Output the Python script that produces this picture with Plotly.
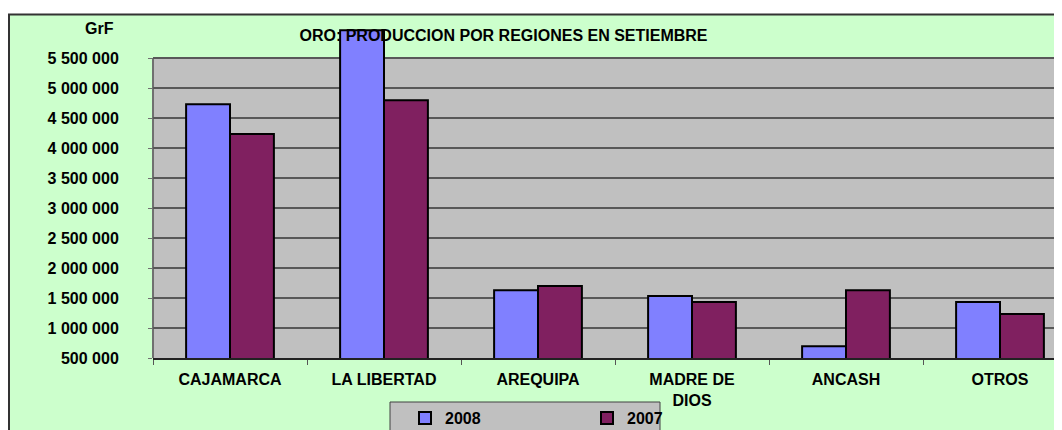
import plotly.graph_objects as go

categories = ["CAJAMARCA", "LA LIBERTAD", "AREQUIPA", "MADRE DE<br>DIOS", "ANCASH", "OTROS"]
values_2008 = [4728000, 5962000, 1628000, 1533000, 695000, 1433000]
values_2007 = [4233000, 4795000, 1700000, 1433000, 1628000, 1233000]
tick_vals = [500000, 1000000, 1500000, 2000000, 2500000, 3000000, 3500000,
             4000000, 4500000, 5000000, 5500000]
tick_text = ["500 000", "1 000 000", "1 500 000", "2 000 000", "2 500 000", "3 000 000",
             "3 500 000", "4 000 000", "4 500 000", "5 000 000", "5 500 000"]
title_text = "ORO: PRODUCCION POR REGIONES EN SETIEMBRE"
unit_text = "GrF"

OFF = 8  # page body margin
W, H = 1062, 430
ML, MR, MT, MB = 153 - OFF, 0, 12, 430 - (358 - OFF)
PW, PH = W - ML - MR, H - MT - MB
CAT_W = 154.0

def px_x(p):
    """page pixel x -> paper x"""
    return (p - OFF - ML) / PW

def px_y(p):
    """page pixel y -> paper y"""
    return (H - MB - (p - OFF)) / PH

FONT = "Liberation Sans, Arial, sans-serif"
BLUE = "#8080FF"
MAROON = "#802060"

fig = go.Figure()
fig.add_trace(go.Bar(name="2008", x=categories, y=values_2008,
                     marker=dict(color=BLUE, line=dict(color="black", width=2))))
fig.add_trace(go.Bar(name="2007", x=categories, y=values_2007,
                     marker=dict(color=MAROON, line=dict(color="black", width=2))))

ymin = tick_vals[0]
ymax = ymin + PH / 60.0 * 1e6
xr = [-0.5, -0.5 + PW / CAT_W]

shapes = [
    # outer green chart area
    dict(type="rect", xref="paper", yref="paper", layer="below",
         x0=px_x(9), x1=px_x(1120), y0=px_y(480), y1=px_y(14.5),
         fillcolor="#CCFFCC", line=dict(color="#333333", width=2)),
    # legend box
    dict(type="rect", xref="paper", yref="paper", layer="below",
         x0=px_x(390), x1=px_x(660), y0=px_y(460), y1=px_y(402),
         fillcolor="#C0C0C0", line=dict(color="#404040", width=1)),
    # gray plot area
    dict(type="rect", xref="paper", yref="y", layer="below",
         x0=0, x1=1, y0=tick_vals[0], y1=tick_vals[-1],
         fillcolor="#C0C0C0", line=dict(width=0)),
    # left wall line
    dict(type="line", xref="paper", yref="y", layer="below",
         x0=0, x1=0, y0=tick_vals[0], y1=tick_vals[-1],
         line=dict(color="#707070", width=2)),
]

fig.update_layout(
    width=W, height=H,
    margin=dict(l=ML, r=MR, t=MT, b=MB, autoexpand=False),
    paper_bgcolor="white",
    plot_bgcolor="rgba(0,0,0,0)",
    barmode="group",
    bargap=0.43,
    bargroupgap=0,
    font=dict(family=FONT, size=16, color="black"),
    title=dict(text="<b>" + title_text + "</b>", x=px_x(503.5), xanchor="center",
               xref="paper", y=1 - (35.5 - OFF) / H, yanchor="middle",
               font=dict(family=FONT, size=16, color="black")),
    showlegend=True,
    legend=dict(orientation="h", x=px_x(405), xanchor="left", y=px_y(401), yanchor="top",
                bgcolor="rgba(0,0,0,0)", borderwidth=0,
                entrywidth=137, entrywidthmode="pixels",
                font=dict(family=FONT, size=16, color="black", weight="bold"),
                itemsizing="constant"),
    shapes=shapes,
    annotations=[dict(text="<b>" + unit_text + "</b>", xref="paper", yref="paper",
                      x=px_x(116), xanchor="right", y=px_y(28), yanchor="middle",
                      showarrow=False, font=dict(family=FONT, size=16, color="black"))],
)

fig.update_xaxes(range=xr, showgrid=False, showline=True, linecolor="#222222", linewidth=2,
                 ticks="outside", tickson="boundaries", ticklen=5, tickcolor="#555555",
                 tickwidth=1, ticklabelstandoff=6,
                 tickfont=dict(family=FONT, size=16, color="black", weight="bold"),
                 fixedrange=True)
fig.update_yaxes(range=[ymin, ymax], tickvals=tick_vals, ticktext=tick_text,
                 showgrid=True, gridcolor="#585858", gridwidth=1.5,
                 showline=False, zeroline=False,
                 ticks="outside", ticklen=4, tickcolor="#707070", tickwidth=1,
                 ticklabelstandoff=26,
                 tickfont=dict(family=FONT, size=16, color="black", weight="bold"),
                 fixedrange=True)

fig.write_html("out.html")
